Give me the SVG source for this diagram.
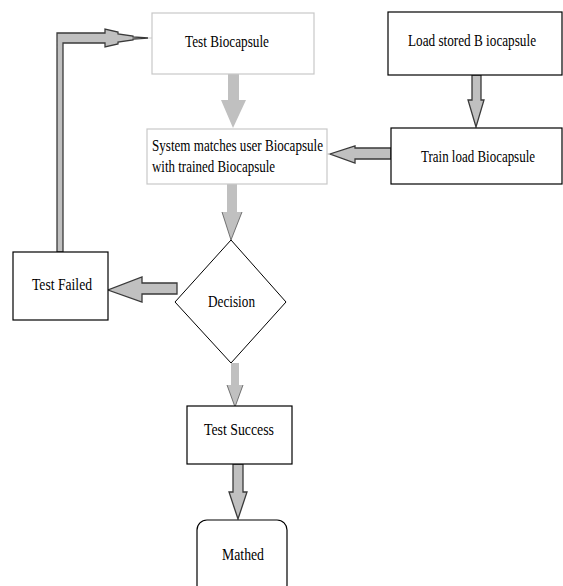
<svg xmlns="http://www.w3.org/2000/svg" width="563" height="586" viewBox="0 0 563 586">
<style>
.bl{fill:#fff;stroke:#c8c8c8;stroke-width:1.2}
.bd{fill:#fff;stroke:#000;stroke-width:1.2}
.t{font-family:"Liberation Serif","Times New Roman",serif;font-size:17px;fill:#000}
.ar{fill:#c0c0c0;stroke:#3a3a3a;stroke-width:1.3;stroke-linejoin:miter}
.al{fill:#c0c0c0;stroke:none}
</style>
<rect width="563" height="586" fill="#fff"/>
<g id="connectors">
<polygon class="al" points="228,74 239,74 239,100 246,100 233,128 221,100 228,100"/>
<polygon class="ar" points="472,75 481,75 481,100 484,100 476,127 468,100 472,100"/>
<polygon class="ar" points="391,148 355,148 355,146 330,154 355,163 355,159 391,159"/>
<line x1="330" y1="154" x2="327" y2="154" stroke="#c8c8c8" stroke-width="1"/>
<polygon class="al" points="227,184 237,184 237,212 242,212 231,240 222,212 227,212"/>
<path d="M222,212 L231,240 L242,212" fill="none" stroke="#555" stroke-width="0.8"/>
<polygon class="ar" points="177,283 142,283 142,277 108,290 142,302 142,294 177,294"/>
<polygon class="al" points="231,363 239,363 239,385 243,385 235,407 227,385 231,385"/>
<path d="M227,385 L235,407 L243,385" fill="none" stroke="#555" stroke-width="0.8"/>
<polygon class="ar" points="233,464 243,464 243,492 247,492 238,519 229,492 233,492"/>
<polygon class="ar" points="57,252 57,33 105,33 105,29 118,32 118,34 133,36 133,37 148,38 133,39 133,40 118,42 118,44 105,47 105,43 63,43 63,252"/>
<line x1="148" y1="38" x2="152" y2="38" stroke="#c8c8c8" stroke-width="1"/>
</g>
<g id="test-biocapsule">
<rect class="bl" x="152" y="13" width="162" height="61"/>
<text class="t" x="185" y="47" textLength="84" lengthAdjust="spacingAndGlyphs">Test Biocapsule</text>
</g>
<g id="system-matches">
<rect class="bl" x="147" y="129" width="180" height="55"/>
<text class="t" x="152" y="151" textLength="171" lengthAdjust="spacingAndGlyphs">System matches user Biocapsule</text>
<text class="t" x="152" y="172" textLength="123" lengthAdjust="spacingAndGlyphs">with trained Biocapsule</text>
</g>
<g id="load-stored">
<rect class="bd" x="388" y="12" width="174" height="63"/>
<text class="t" x="408" y="46" textLength="128" lengthAdjust="spacingAndGlyphs">Load stored B iocapsule</text>
</g>
<g id="train-load">
<rect class="bd" x="391" y="128" width="171" height="56"/>
<text class="t" x="421" y="162" textLength="114" lengthAdjust="spacingAndGlyphs">Train load Biocapsule</text>
</g>
<g id="test-failed">
<rect class="bd" x="13" y="252" width="95" height="68"/>
<text class="t" x="32" y="290" textLength="60" lengthAdjust="spacingAndGlyphs">Test Failed</text>
</g>
<g id="decision">
<polygon points="231,240 286,302 231,363 175,302" fill="#fff" stroke="#000" stroke-width="1"/>
<text class="t" x="208" y="307" textLength="47" lengthAdjust="spacingAndGlyphs">Decision</text>
</g>
<g id="test-success">
<rect class="bd" x="187" y="406" width="105" height="58"/>
<text class="t" x="204" y="435" textLength="70" lengthAdjust="spacingAndGlyphs">Test Success</text>
</g>
<g id="mathed">
<rect class="bd" x="197" y="520" width="90" height="75" rx="10"/>
<text class="t" x="222" y="560" textLength="42" lengthAdjust="spacingAndGlyphs">Mathed</text>
</g>
</svg>
